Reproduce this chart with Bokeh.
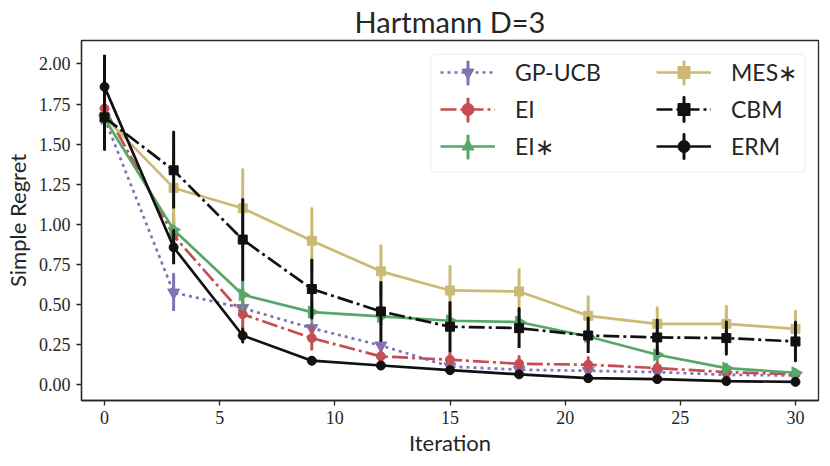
import numpy as np
from bokeh.plotting import figure
from bokeh.models import (ColumnDataSource, Legend, LegendItem, FixedTicker,
                          PrintfTickFormatter, Range1d, BoxAnnotation)
from bokeh.embed import file_html
from bokeh.resources import INLINE

iters = [0, 3, 6, 9, 12, 15, 18, 21, 24, 27, 30]

gpucb = [1.66, 0.575, 0.478, 0.353, 0.245, 0.114, 0.094, 0.087, 0.079, 0.062, 0.058]
gpucb_err = [0.15, 0.12, 0.03, 0.03, 0.02, 0.02, 0.02, 0.01, 0.01, 0.01, 0.01]

ei = [1.722, 0.93, 0.44, 0.291, 0.177, 0.156, 0.131, 0.125, 0.104, 0.079, 0.066]
ei_err = [0.15, 0.10, 0.16, 0.07, 0.04, 0.05, 0.05, 0.05, 0.04, 0.03, 0.02]

eis = [1.66, 0.967, 0.561, 0.453, 0.426, 0.399, 0.391, 0.301, 0.187, 0.104, 0.075]
eis_err = [0.15, 0.10, 0.09, 0.06, 0.05, 0.05, 0.04, 0.05, 0.05, 0.03, 0.02]

mes = [1.67, 1.227, 1.10, 0.898, 0.707, 0.588, 0.582, 0.43, 0.38, 0.38, 0.349]
mes_err = [0.15, 0.24, 0.24, 0.20, 0.16, 0.15, 0.15, 0.13, 0.11, 0.11, 0.11]

cbm = [1.667, 1.337, 0.905, 0.597, 0.457, 0.362, 0.353, 0.307, 0.295, 0.291, 0.270]
cbm_err = [0.20, 0.25, 0.25, 0.18, 0.18, 0.15, 0.135, 0.12, 0.12, 0.10, 0.12]

erm = [1.857, 0.857, 0.307, 0.150, 0.120, 0.091, 0.065, 0.041, 0.035, 0.023, 0.018]
erm_err = [0.20, 0.11, 0.04, 0.02, 0.02, 0.015, 0.015, 0.01, 0.01, 0.01, 0.01]

x_ticks = [0, 5, 10, 15, 20, 25, 30]
y_ticks = [0.0, 0.25, 0.5, 0.75, 1.0, 1.25, 1.5, 1.75, 2.0]

SANS = "Lato"
SERIF = "Liberation Serif"
DARK = "#262626"
FW, FH = 737, 360

p = figure(frame_width=FW, frame_height=FH, output_backend="svg", toolbar_location=None,
           x_range=Range1d(-1, 31), y_range=Range1d(-0.098, 2.146),
           min_border_left=75, min_border_right=2, min_border_top=39,
           min_border_bottom=59, title="Hartmann D=3")
p.title.align = "center"
p.title.text_font = SANS
p.title.text_font_size = "29px"
p.title.text_font_style = "normal"
p.title.text_color = DARK
p.title.standoff = 3
p.title.offset = 0

p.xgrid.visible = False
p.ygrid.visible = False
p.outline_line_color = DARK
p.outline_line_width = 1.3
p.outline_line_alpha = 1

for ax in (p.xaxis, p.yaxis):
    ax.axis_line_color = DARK
    ax.axis_line_width = 1.3
    ax.major_tick_line_color = DARK
    ax.major_tick_line_width = 1.3
    ax.major_tick_out = 5
    ax.major_tick_in = 0
    ax.minor_tick_line_color = None
    ax.major_label_text_font = SERIF
    ax.major_label_text_font_size = "18px"
    ax.major_label_text_color = DARK
    ax.axis_label_text_font = SANS
    ax.axis_label_text_font_size = "22px"
    ax.axis_label_text_font_style = "normal"
    ax.axis_label_text_color = DARK
    ax.major_label_standoff = 5
    ax.axis_label_standoff = 2

p.yaxis.major_label_standoff = 6
p.yaxis.axis_label_standoff = 5
p.xaxis.ticker = FixedTicker(ticks=x_ticks)
p.yaxis.ticker = FixedTicker(ticks=y_ticks)
p.yaxis.formatter = PrintfTickFormatter(format="%.2f")
p.xaxis.axis_label = "Iteration"
p.yaxis.axis_label = "Simple Regret"

series = [
    ("GP-UCB", gpucb, gpucb_err, "#8172B2", "3 4", "inverted_triangle", 12, 0.0),
    ("EI", ei, ei_err, "#C44E52", "16 4 3 4", "circle", 9, 0.0),
    ("EI\u2217", eis, eis_err, "#55A868", "solid", "triangle", 12, -np.pi / 2),
    ("MES\u2217", mes, mes_err, "#CCB974", "solid", "square", 9, 0.0),
    ("CBM", cbm, cbm_err, "#111111", "16 4 3 4", "square", 9, 0.0),
    ("ERM", erm, erm_err, "#111111", "solid", "circle", 9, 0.0),
]

items = []
for name, ys, errs, color, dash, marker, size, ang in series:
    ys = np.array(ys)
    errs = np.array(errs)
    src = ColumnDataSource(dict(x=iters, y=ys, h=2 * errs))
    eb = p.ellipse(x="x", y="y", width=0.0005, height="h", source=src,
                   fill_color=None, line_color=color, line_width=3)
    ln = p.line("x", "y", source=src, line_color=color, line_width=2.7,
                line_dash=dash)
    mk = p.scatter("x", "y", source=src, marker=marker, size=size, angle=ang,
                   fill_color=color, line_color=color)
    items.append(LegendItem(label=name, renderers=[ln, eb, mk]))

box = BoxAnnotation(left=14.16, right=30.43, bottom=1.325, top=2.06,
                    fill_color="white", fill_alpha=0.85,
                    line_color="#cccccc", line_width=1.2, border_radius=5)
p.add_layout(box)

def make_legend(its, loc):
    lg = Legend(items=its, location=loc, orientation="vertical",
                border_line_color=None, background_fill_alpha=0,
                padding=0, margin=0, spacing=7,
                glyph_width=55, glyph_height=30, label_standoff=20,
                label_text_font=SANS, label_text_font_size="23px",
                label_text_color=DARK, label_height=30)
    return lg

p.add_layout(make_legend(items[:3], (359, 239)))
p.add_layout(make_legend(items[3:], (575, 239)))

open("out.html", "w").write(file_html(p, INLINE))
